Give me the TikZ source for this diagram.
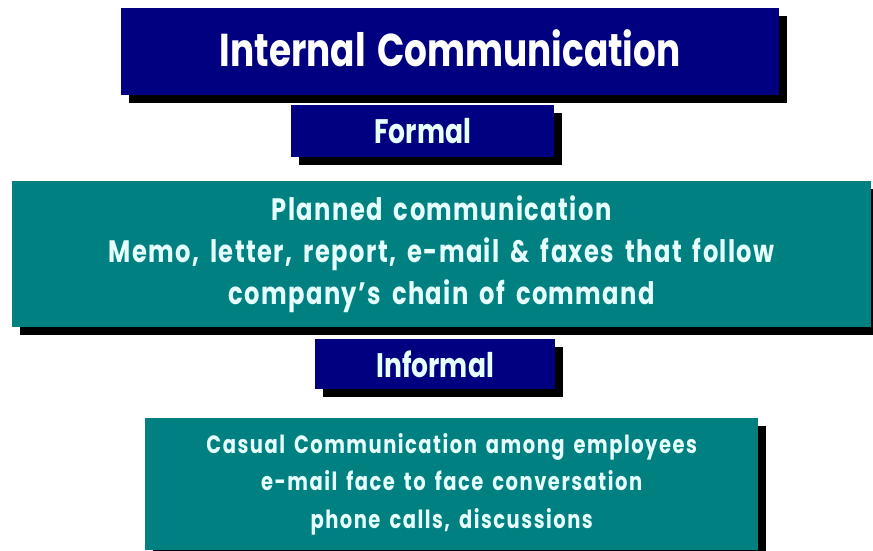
\documentclass[tikz,border=0pt]{standalone}
\usepackage{fontspec}
\setmainfont[FakeStretch=0.78,WordSpace=1.5]{Poppins}
\newfontfamily\spacedfont[FakeStretch=0.78,LetterSpace=4.5,WordSpace=1.7]{Poppins}
\newfontfamily\spacedfontb[FakeStretch=0.78,LetterSpace=6,WordSpace=1.6]{Poppins}
\usetikzlibrary{shadows}
\definecolor{navyc}{HTML}{000080}
\definecolor{tealc}{HTML}{008080}
\definecolor{lightc}{HTML}{E6FFFF}
\tikzset{
  boxbase/.style={anchor=north west, inner sep=0pt, align=center, text=lightc,
    drop shadow={shadow xshift=8pt, shadow yshift=-8pt, fill=black, opacity=1}},
  navybox/.style={boxbase, fill=navyc},
  tealbox/.style={boxbase, fill=tealc},
}
\begin{document}
\begin{tikzpicture}[x=1pt,y=-1pt]
\useasboundingbox (0,0) rectangle (873,550);
\node[navybox, minimum width=658pt, minimum height=87pt, text=white,
  font=\fontsize{46}{50}\selectfont\bfseries] (title) at (121,8)
  {\raisebox{3pt}[\height][\depth]{Internal Communication}};
\node[navybox, minimum width=263pt, minimum height=52pt,
  font=\fontsize{34}{40}\selectfont\bfseries] (formal) at (291,105) {Formal};
\node[tealbox, minimum width=859pt, minimum height=146pt,
  font=\spacedfont\fontsize{31}{42}\selectfont\bfseries] (planned) at (12,181)
  {Planned communication\\Memo, letter, report, e-mail \& faxes that follow\\company’s chain of command};
\node[navybox, minimum width=240pt, minimum height=50pt,
  font=\fontsize{34}{40}\selectfont\bfseries] (informal) at (315,339) {Informal};
\node[tealbox, minimum width=613pt, minimum height=132pt,
  font=\spacedfontb\fontsize{25}{37.5}\selectfont\bfseries] (casual) at (145,418)
  {Casual Communication among employees\\e-mail face to face conversation\\phone calls, discussions};
\end{tikzpicture}
\end{document}
